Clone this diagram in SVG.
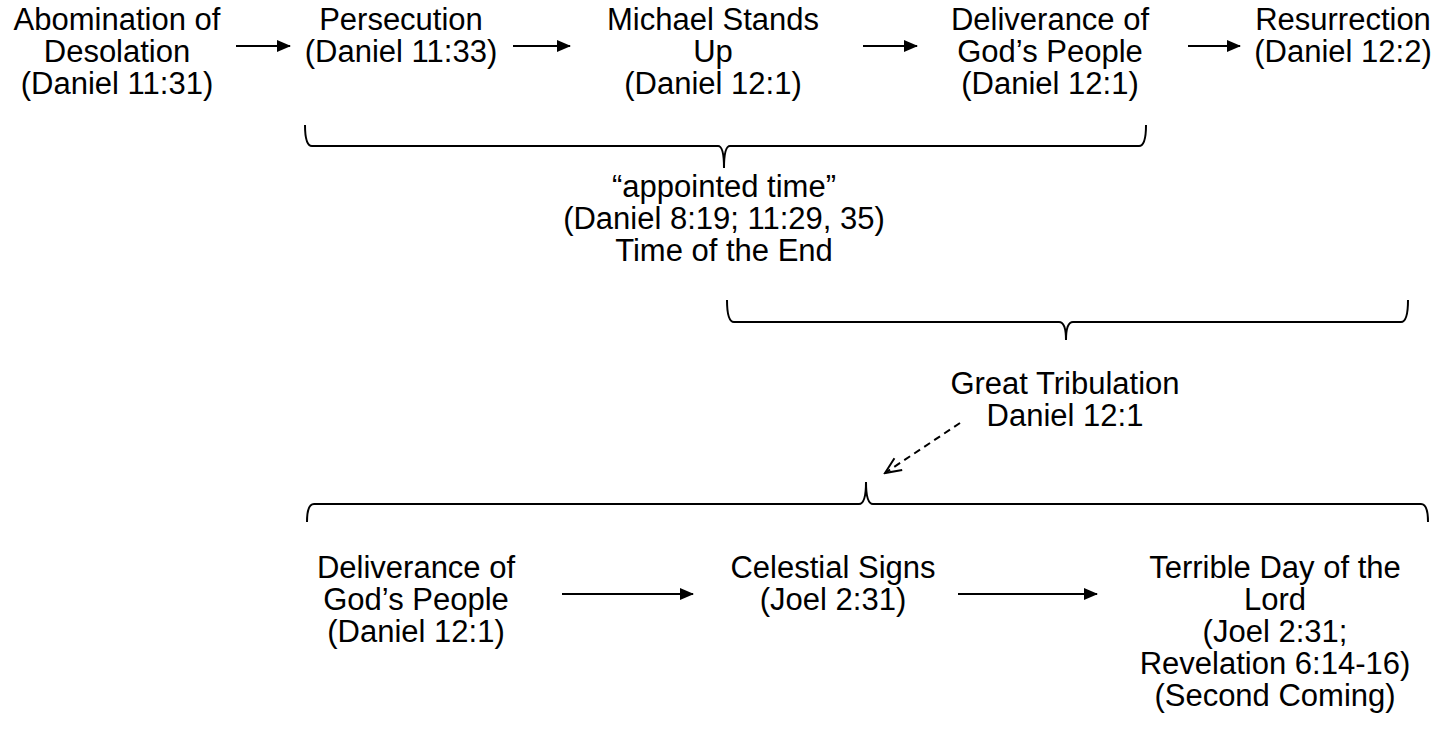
<svg xmlns="http://www.w3.org/2000/svg" width="1439" height="730" viewBox="0 0 1439 730">
<style>
text{font-family:"Liberation Sans",Arial,sans-serif;font-size:31px;fill:#000;text-anchor:middle}
.ln{stroke:#000;stroke-width:2;fill:none}
.br{stroke:#000;stroke-width:2;fill:none}
.dash{stroke:#000;stroke-width:2;fill:none;stroke-dasharray:7,5}
</style>
<defs>
<marker id="ah" markerWidth="14" markerHeight="12" refX="13" refY="6" orient="auto" markerUnits="userSpaceOnUse">
<path d="M0,0 L14,6 L0,12 Z" fill="#000"/>
</marker>
<marker id="oh" markerWidth="20" markerHeight="20" refX="18" refY="10" orient="auto" markerUnits="userSpaceOnUse">
<path d="M2,3 L18,10 L2,17" fill="none" stroke="#000" stroke-width="2"/>
</marker>
</defs>
<g id="n1"><text x="117" y="30">Abomination of</text><text x="117" y="62">Desolation</text><text x="117" y="94">(Daniel 11:31)</text></g>
<g id="n2"><text x="401" y="30">Persecution</text><text x="401" y="62">(Daniel 11:33)</text></g>
<g id="n3"><text x="713" y="30">Michael Stands</text><text x="713" y="62">Up</text><text x="713" y="94">(Daniel 12:1)</text></g>
<g id="n4"><text x="1050" y="30">Deliverance of</text><text x="1050" y="62">God’s People</text><text x="1050" y="94">(Daniel 12:1)</text></g>
<g id="n5"><text x="1343" y="30">Resurrection</text><text x="1343" y="62">(Daniel 12:2)</text></g>
<g id="n6"><text x="724" y="197">“appointed time”</text><text x="724" y="229">(Daniel 8:19; 11:29, 35)</text><text x="724" y="261">Time of the End</text></g>
<g id="n7"><text x="1065" y="394">Great Tribulation</text><text x="1065" y="426">Daniel 12:1</text></g>
<g id="n8"><text x="416" y="578">Deliverance of</text><text x="416" y="610">God’s People</text><text x="416" y="642">(Daniel 12:1)</text></g>
<g id="n9"><text x="833" y="578">Celestial Signs</text><text x="833" y="610">(Joel 2:31)</text></g>
<g id="n10"><text x="1275" y="578">Terrible Day of the</text><text x="1275" y="610">Lord</text><text x="1275" y="642">(Joel 2:31;</text><text x="1275" y="674">Revelation 6:14-16)</text><text x="1275" y="706">(Second Coming)</text></g>
<g id="connectors">
<line class="ln" x1="236" y1="46" x2="290" y2="46" marker-end="url(#ah)"/>
<line class="ln" x1="513" y1="46" x2="570" y2="46" marker-end="url(#ah)"/>
<line class="ln" x1="863" y1="46" x2="917" y2="46" marker-end="url(#ah)"/>
<line class="ln" x1="1188" y1="46" x2="1240" y2="46" marker-end="url(#ah)"/>
<line class="ln" x1="562" y1="594" x2="693" y2="594" marker-end="url(#ah)"/>
<line class="ln" x1="958" y1="594" x2="1097" y2="594" marker-end="url(#ah)"/>
<line class="dash" x1="960" y1="423" x2="885" y2="473" marker-end="url(#oh)"/>
<path class="br" d="M305,125 Q305,146 312,146 L718,146 Q724,146 724,168 Q724,146 730,146 L1139,146 Q1146,146 1146,125"/>
<path class="br" d="M727,300 Q727,322 734,322 L1059,322 Q1066,322 1066,340 Q1066,322 1073,322 L1401,322 Q1408,322 1408,300"/>
<path class="br" d="M307,522 Q307,504 314,504 L859,504 Q866,504 866,482 Q866,504 873,504 L1421,504 Q1428,504 1428,522"/>
</g>
</svg>
